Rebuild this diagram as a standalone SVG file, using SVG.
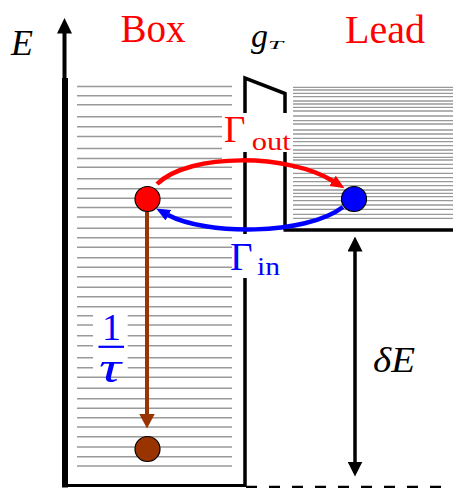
<svg xmlns="http://www.w3.org/2000/svg" width="453" height="488" viewBox="0 0 453 488">
<style>
.lvl{fill:none;stroke:#999;stroke-width:1.6}
.lvl2{fill:none;stroke:#999;stroke-width:1.3}
.wall{fill:none;stroke:#000;stroke-linecap:butt}
.serif{font-family:"Liberation Serif","DejaVu Serif",serif}
.it{font-style:italic}
.pt{stroke:#000;stroke-width:1.2}
</style>
<defs>
<marker id="hr" viewBox="0 0 14 12" refX="0.5" refY="6" markerWidth="14" markerHeight="12" markerUnits="userSpaceOnUse" orient="auto"><path d="M0,0 L14,6 L0,12 z" fill="#ff0000"/></marker>
<marker id="hb" viewBox="0 0 14 12" refX="0.5" refY="6" markerWidth="14" markerHeight="12" markerUnits="userSpaceOnUse" orient="auto"><path d="M0,0 L14,6 L0,12 z" fill="#0000ff"/></marker>
<marker id="hbr" viewBox="0 0 15 16" refX="0.5" refY="8" markerWidth="15" markerHeight="16" markerUnits="userSpaceOnUse" orient="auto"><path d="M0,0 L15,8 L0,16 z" fill="#993300"/></marker>
<marker id="hk" viewBox="0 0 15 15" refX="0.5" refY="7.5" markerWidth="15" markerHeight="15" markerUnits="userSpaceOnUse" orient="auto-start-reverse"><path d="M0,0 L15,7.5 L0,15 z" fill="#000"/></marker>
</defs>
<rect width="453" height="488" fill="#fff"/>

<g id="box">
<path class="lvl" d="M77 86.5H232M77 95.7H232M77 104.8H232M77 116.7H222M77 126.7H222M77 136.5H222M77 148.5H222M77 158.5H222M77 167.3H232M77 178.7H232M77 188.7H232M77 198.3H232M77 207.5H232M77 217H232M77 228.3H232M77 237.7H232M77 247.3H232M77 257.7H232M77 267.3H232M77 276.7H232M77 287.3H232M77 296.7H232M77 306.7H232M77 315.7H93M127.7 315.7H232M77 325H93M127.7 325H232M77 335.7H93M127.7 335.7H232M77 345.7H93M127.7 345.7H232M77 357.7H93M127.7 357.7H232M77 367.7H93M127.7 367.7H232M77 377.3H232M77 388.3H232M77 398.7H232M77 408.3H232M77 417.7H232M77 427H232M77 436.7H232M77 447H232M77 456.7H232M77 466H232"/>
<line class="wall" x1="65" y1="78" x2="65" y2="487.5" stroke-width="6"/>
<line class="wall" x1="62" y1="485.5" x2="246" y2="485.5" stroke-width="3"/>
</g>

<g id="lead">
<path class="lvl2" d="M293 87.3H453M293 90H453M293 93.3H453M293 96.7H453M293 101H453M293 104H453M293 107.3H453M293 111H453M293 116H453M293 120.7H453M293 124H453M293 130H453M293 134H453M293 138.3H453M293 141.7H453M293 145.7H453M293 150H453M293 153.3H453M293 157.3H453M293 160H453M293 164.3H453M293 168.3H453M293 173.3H453M293 177.7H453M293 181.7H453M293 185.7H453M293 190H453M293 193.3H453M293 196.7H453M293 200.7H453M293 205H453M293 209.3H453M293 214.3H453M293 218.3H453"/>
<line class="wall" x1="283.5" y1="230" x2="453" y2="230" stroke-width="3.5"/>
<line class="wall" x1="246" y1="487" x2="453" y2="487" stroke-width="2.5" stroke-dasharray="11 12"/>
</g>

<g id="barrier">
<path class="wall" d="M245 487V78L285 93.5V230" stroke-width="3.5" stroke-linejoin="miter"/>
</g>

<g id="axis">
<line class="wall" x1="64.5" y1="33" x2="64.5" y2="486" stroke-width="4"/>
<polygon points="64.5,18 57,33.5 72,33.5" fill="#000"/>
<text class="serif it" x="11" y="55" font-size="36">E</text>
</g>

<g id="labels">
<text class="serif" x="120.5" y="41.5" font-size="39" fill="#ff0000" textLength="65" lengthAdjust="spacingAndGlyphs">Box</text>
<text class="serif" x="345" y="42.5" font-size="39" fill="#ff0000" textLength="80" lengthAdjust="spacingAndGlyphs">Lead</text>
<text class="serif it" x="251" y="47" font-size="34">g</text>
<text class="serif it" x="268" y="49" font-size="13" textLength="15" lengthAdjust="spacingAndGlyphs">T</text>
</g>

<g id="label-gout">
<rect x="222" y="113" width="70" height="39" fill="#fff"/>
<text class="serif" x="224" y="141.7" font-size="37" fill="#ff0000">Γ</text>
<text class="serif" x="251.7" y="150" font-size="25" fill="#ff0000" textLength="39" lengthAdjust="spacingAndGlyphs">out</text>
</g>

<g id="label-gin">
<rect x="233" y="234" width="49" height="44" fill="#fff"/>
<text class="serif" x="230" y="270" font-size="39" fill="#0000ff">Γ</text>
<text class="serif" x="257" y="275" font-size="25" fill="#0000ff" textLength="23" lengthAdjust="spacingAndGlyphs">in</text>
</g>

<g id="label-tau" fill="#0000ff">
<text class="serif" x="102" y="340" font-size="38" fill="#0000ff">1</text>
<rect x="98.5" y="345.7" width="25.5" height="2.2" fill="#0000ff"/>
<text class="serif it" x="99" y="382" font-size="44" fill="#0000ff" textLength="22" lengthAdjust="spacingAndGlyphs">τ</text>
</g>

<g id="label-dE">
<text class="serif it" x="373" y="372" font-size="35" textLength="42" lengthAdjust="spacingAndGlyphs">δE</text>
</g>

<g id="connectors" fill="none">
<path d="M157,184 C190,152 290,154 333,181" stroke="#ff0000" stroke-width="4.5" marker-end="url(#hr)"/>
<path d="M343,207 C305,236 205,235 168,215" stroke="#0000ff" stroke-width="4.5" marker-end="url(#hb)"/>
<path d="M147,212 L147,414" stroke="#993300" stroke-width="4" marker-end="url(#hbr)"/>
<path d="M355,251 L355,462" stroke="#000" stroke-width="3.5" marker-start="url(#hk)" marker-end="url(#hk)"/>
</g>

<g id="particle-red"><circle cx="147.5" cy="199" r="12.5" fill="#ff0000" class="pt"/></g>
<g id="particle-blue"><circle cx="354" cy="199" r="12.5" fill="#0000ff" class="pt"/></g>
<g id="particle-brown"><circle cx="147.5" cy="449" r="12.5" fill="#993300" class="pt"/></g>
</svg>
